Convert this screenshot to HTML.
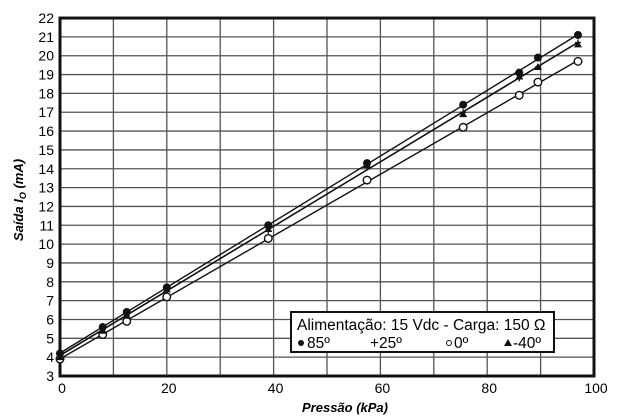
<!DOCTYPE html>
<html><head><meta charset="utf-8"><style>
body{margin:0;background:#fff;}
svg{display:block;font-family:"Liberation Sans",Arial,sans-serif;}
</style></head><body>
<svg id="chart" width="625" height="418" viewBox="0 0 625 418">
<g id="grid"></g>
<g id="axes"></g>
<g id="series"></g>
<text x="345" y="412" text-anchor="middle" font-size="13" font-weight="bold" font-style="italic">Pressão (kPa)</text>
<text transform="translate(23,200) rotate(-90)" text-anchor="middle" font-size="13" font-weight="bold" font-style="italic">Saída I<tspan font-size="9" dy="3">O</tspan><tspan dy="-3"> (mA)</tspan></text>
<g>
<rect x="291" y="312" width="263" height="40" fill="#fff" stroke="#111" stroke-width="2"/>
<text x="297" y="330" font-size="15.5">Alimentação: 15 Vdc - Carga: 150 Ω</text>
<circle cx="301" cy="343" r="3" fill="#111"/>
<text x="307" y="348" font-size="15.5">85º</text>
<text x="370" y="348" font-size="15.5">+25º</text>
<circle cx="449" cy="343" r="2.5" fill="none" stroke="#111"/>
<text x="454" y="348" font-size="15.5">0º</text>
<polygon points="508,339 504,346 512,346" fill="#111"/>
<text x="513" y="348" font-size="15.5">-40º</text>
</g>
</svg>
<script>
const pressures=[0,8,12.5,20,39,57.5,75.5,86,89.5,97];
const s85=[4.2,5.6,6.4,7.7,11.0,14.3,17.4,19.1,19.9,21.1];
const s25=[4.1,5.5,6.2,7.5,10.7,14.1,17.0,18.8,19.4,20.7];
const s0=[3.9,5.2,5.9,7.2,10.3,13.4,16.2,17.9,18.6,19.7];
const sm40=[4.0,5.4,6.2,7.6,10.8,14.2,16.9,18.9,19.4,20.6];
const xTicks=[0,20,40,60,80,100];
const yTicks=[3,4,5,6,7,8,9,10,11,12,13,14,15,16,17,18,19,20,21,22];
const NS="http://www.w3.org/2000/svg";
function X(v){return 60+v*5.34;}
function Y(v){return 376-(v-3)*18.84;}
function mk(tag,attrs,parent){const e=document.createElementNS(NS,tag);for(const k in attrs)e.setAttribute(k,attrs[k]);parent.appendChild(e);return e;}
const grid=document.getElementById('grid'),axes=document.getElementById('axes'),ser=document.getElementById('series');
for(let v=0;v<=100;v+=10){const l=mk('line',{x1:X(v),x2:X(v),y1:Y(22),y2:Y(3),stroke:'#555','stroke-width':1.3},grid);

}
yTicks.forEach(v=>{const l=mk('line',{x1:X(0),x2:X(100),y1:Y(v),y2:Y(v),stroke:'#555','stroke-width':1.3},grid);


const t=mk('text',{x:X(0)-6,y:Y(v)+5,'text-anchor':'end','font-size':14},axes);t.textContent=v;

});
xTicks.forEach(v=>{const t=mk('text',{x:X(v)+2,y:Y(3)+17,'text-anchor':'middle','font-size':14},axes);t.textContent=v;

});
const fr=mk('rect',{x:X(0),y:Y(22),width:X(100)-X(0),height:Y(3)-Y(22),fill:'none',stroke:'#111','stroke-width':3},axes);


function fit(ys){const n=pressures.length;let sx=0,sy=0,sxx=0,sxy=0;for(let i=0;i<n;i++){sx+=pressures[i];sy+=ys[i];sxx+=pressures[i]**2;sxy+=pressures[i]*ys[i];}
const b=(n*sxy-sx*sy)/(n*sxx-sx*sx);return [(sy-b*sx)/n,b];}
const sets=[['85',s85,'dot'],['25',s25,'plus'],['0',s0,'ring'],['minus40',sm40,'tri']];
sets.forEach(([name,ys,m])=>{const [a,b]=fit(ys);
const ln=mk('line',{x1:X(0),y1:Y(a),x2:X(97),y2:Y(a+b*97),stroke:'#111','stroke-width':1.4},ser);


pressures.forEach((p,i)=>{const cx=X(p),cy=Y(ys[i]);let e;
if(m==='dot')e=mk('circle',{cx,cy,r:4,fill:'#111'},ser);
else if(m==='ring')e=mk('circle',{cx,cy,r:3.8,fill:'#fff',stroke:'#111','stroke-width':1.4},ser);
else if(m==='tri')e=mk('polygon',{points:`${cx},${cy-4} ${cx-4},${cy+3} ${cx+4},${cy+3}`,fill:'#111'},ser);
else e=mk('path',{d:`M${cx-3},${cy}H${cx+3}M${cx},${cy-3}V${cy+3}`,stroke:'#111','stroke-width':1.3},ser);

});});
</script>
</body></html>
